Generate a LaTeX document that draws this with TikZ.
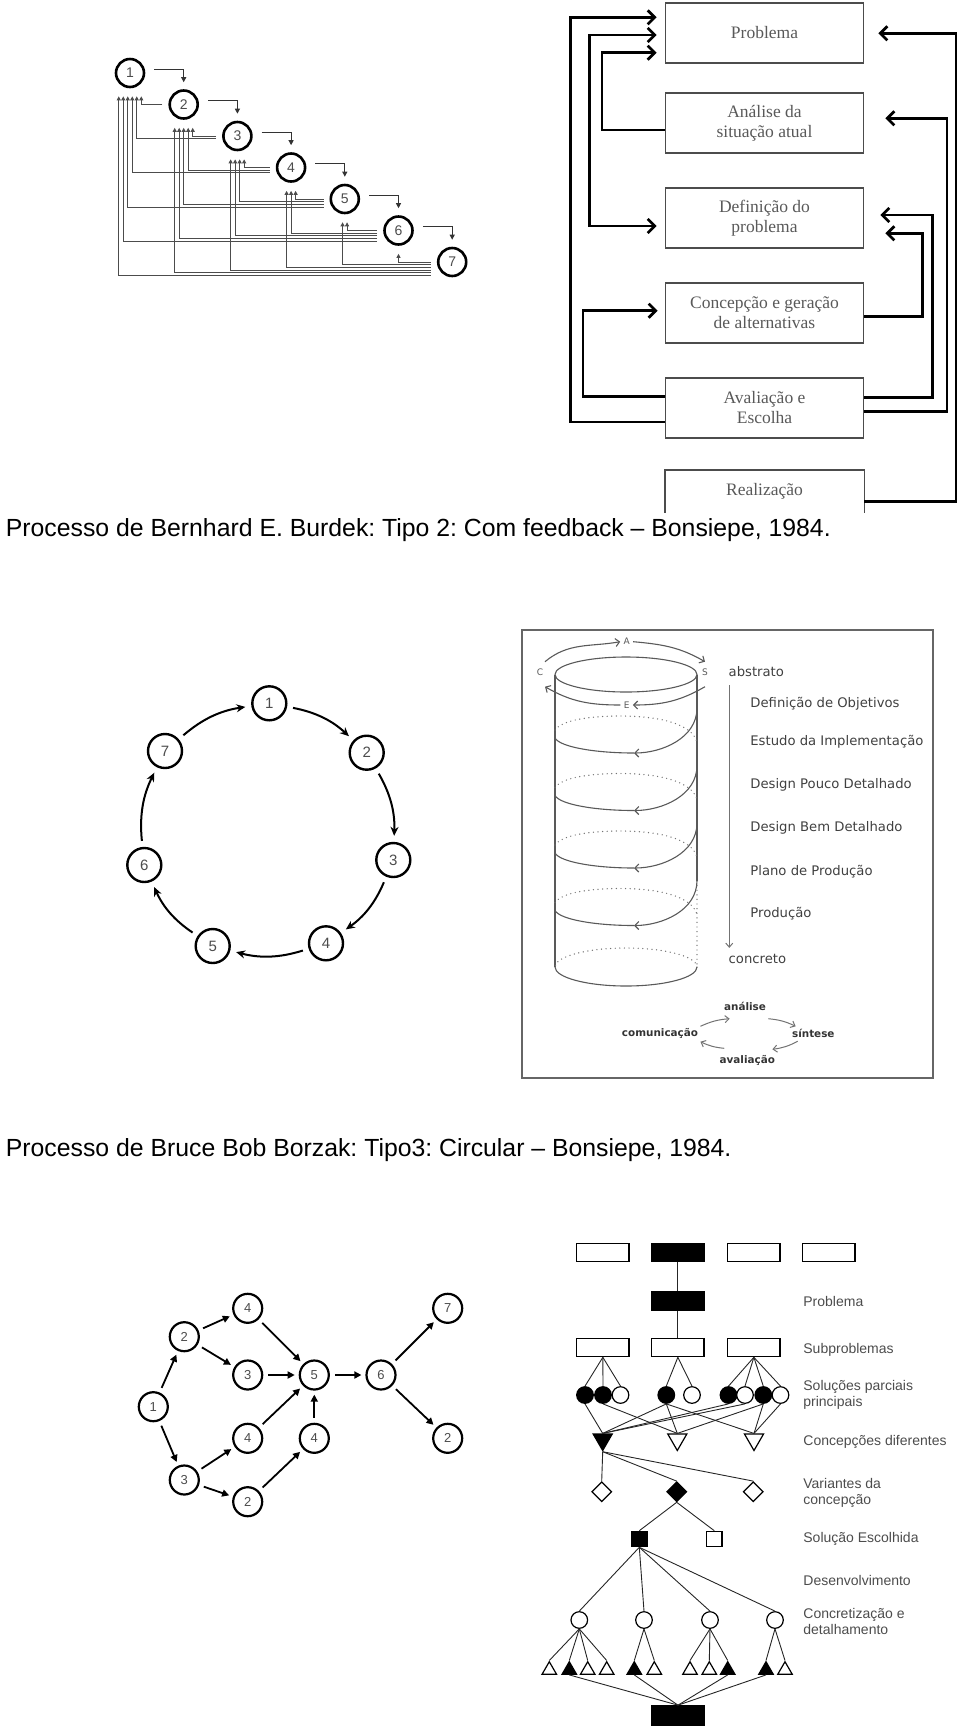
\documentclass[tikz,border=0pt]{standalone}
\usepackage{fontspec}
\setmainfont{Liberation Sans}
\newfontfamily\bookfont{Liberation Serif}
\newfontfamily\vfont{DejaVu Sans}
\usetikzlibrary{arrows.meta,calc,shapes.geometric}
\frenchspacing

\tikzset{
  stair/.style={circle,draw,line width=1.3pt,minimum size=14pt,inner sep=0pt,text=black!70,font=\fontsize{7}{8}\selectfont},
  fwd/.style={draw=black!80,line width=0.5pt,-{Triangle[length=2.5pt,width=2.5pt]}},
  back/.style={draw=black!70,line width=0.5pt,-{Triangle[length=2pt,width=2pt]}},
  stagebox/.style={draw=black!70,line width=0.9pt,minimum width=99pt,minimum height=30pt,inner sep=0pt,align=center,text=black!65,font=\bookfont\fontsize{8.75}{10}\selectfont},
  fb/.style={line width=1.35pt,-{Straight Barb[length=3.5pt,width=7pt]}},
  fbb/.style={line width=1.35pt,{Straight Barb[length=3.5pt,width=7pt]}-{Straight Barb[length=3.5pt,width=7pt]}},
  capt/.style={anchor=west,inner sep=0pt,font=\fontsize{12.4}{14}\selectfont},
  ring/.style={circle,draw,line width=1.2pt,minimum size=17pt,inner sep=0pt,text=black!70,font=\fontsize{7.5}{8}\selectfont},
  cyc/.style={line width=1pt,-{Stealth[length=4.5pt,width=4pt]},shorten >=3pt,shorten <=3pt,bend left=16},
  frame/.style={draw=black!60,line width=0.8pt},
  cyl/.style={draw=black!65,line width=0.55pt},
  hid/.style={draw=black!55,line width=0.7pt,line cap=round,dash pattern=on 0pt off 2.3pt},
  barb/.style={-{Straight Barb[length=2pt,width=4pt]}},
  garr/.style={draw=black!55,line width=0.5pt,-{Straight Barb[length=2pt,width=3.5pt]}},
  lab/.style={anchor=west,inner sep=0pt,text=black!75,font=\vfont\fontsize{6.6}{8}\selectfont},
  tiny/.style={inner sep=0pt,text=black!65,font=\vfont\fontsize{4.5}{5}\selectfont},
  cycl/.style={inner sep=0pt,text=black!80,font=\vfont\bfseries\fontsize{5.2}{6}\selectfont},
  gnode/.style={circle,draw,line width=1.1pt,minimum size=14.5pt,inner sep=0pt,text=black!70,font=\fontsize{6.5}{7}\selectfont},
  garrow/.style={line width=0.9pt,-{Triangle[length=3.5pt,width=3.5pt]},shorten >=2pt,shorten <=2.5pt},
  rbox/.style={rectangle,draw,line width=0.6pt,minimum width=26.2pt,minimum height=9.2pt,inner sep=0pt},
  sol/.style={circle,draw,line width=0.6pt,minimum size=8.3pt,inner sep=0pt},
  tdown/.style={regular polygon,regular polygon sides=3,shape border rotate=180,draw,line width=0.6pt,minimum size=11pt,inner sep=0pt},
  tup/.style={regular polygon,regular polygon sides=3,draw,line width=0.6pt,minimum size=8.4pt,inner sep=0pt},
  dia/.style={diamond,draw,line width=0.6pt,minimum width=10pt,minimum height=10pt,inner sep=0pt},
  sq/.style={rectangle,draw,line width=0.6pt,minimum size=7.7pt,inner sep=0pt},
  blk/.style={fill=black},
  tl/.style={draw=black!85,line width=0.45pt},
  tlab/.style={anchor=west,inner sep=0pt,align=left,text=black!70,font=\fontsize{7}{8.3}\selectfont}
}

\begin{document}
\begin{tikzpicture}[x=0.5pt,y=0.5pt]
  \useasboundingbox (0,0) rectangle (960,-1731);

  % Burdek, staircase with feedback
  \foreach \k in {1,...,7}
    \node[stair] (s\k) at ({130+53.7*(\k-1)},{-73-31.5*(\k-1)}) {\k};
  \foreach \k in {1,...,6}{
    \pgfmathtruncatemacro\n{\k+1}
    \draw[fwd] ($(s\k.east)+(9,4)$) -| ($(s\n.north)+(0,7)$);
  }
  \foreach \j in {2,...,7}{
    \pgfmathtruncatemacro\jm{\j-1}
    \foreach \i in {1,...,\jm}{
      \pgfmathsetmacro\off{(\j-1-\i)*2.7}
      \pgfmathsetmacro\dx{((6-\i)/2-(\j-\i-1))*4.5}
      \draw[back] ($(s\j.west)+(-6,-\off)$) -| ($(s\i.south)+(\dx,-8)$);
    }
  }

  % Burdek, boxes
  \node[stagebox] (prob) at (764.5,-32.7) {Problema};
  \node[stagebox] (anal) at (764.5,-123) {Análise da\\situação atual};
  \node[stagebox] (defi) at (764.5,-218) {Definição do\\problema};
  \node[stagebox] (conc) at (764.5,-313) {Concepção e geração\\de alternativas};
  \node[stagebox] (aval) at (764.5,-408) {Avaliação e\\Escolha};
  \node[stagebox,draw=none,minimum height=20.5pt] (real) at (764.5,-491.5) {Realização};
  \draw[black!70,line width=0.9pt] (real.south west) |- (real.north east) -- (real.south east);

  \draw[fb] ($(aval.west)+(0,-14)$) -- ++(-94,0) |- ($(prob.west)+(-8,15.4)$);
  \draw[fbb] ($(prob.west)+(-8,-2.3)$) -- ++(-66.8,0) |- ($(defi.west)+(-8,-8)$);
  \draw[fb] ($(anal.west)+(0,-7)$) -- ++(-62.5,0) |- ($(prob.west)+(-8,-20)$);
  \draw[fb] ($(aval.west)+(0,11.3)$) -- ++(-81.5,0) |- ($(conc.west)+(-7,2.3)$);
  \draw[fb] ($(real.east)+(0,-10.2)$) -- ++(91.5,0) |- ($(prob.east)+(14,-0.6)$);
  \draw[fb] ($(aval.east)+(0,-3.7)$) -- ++(82.5,0) |- ($(anal.east)+(21,4.7)$);
  \draw[fb] ($(aval.east)+(0,10.7)$) -- ++(68,0) |- ($(defi.east)+(16,3)$);
  \draw[fb] ($(conc.east)+(0,-3.7)$) -- ++(58,0) |- ($(defi.east)+(21,-15.3)$);

  \node[capt] (cap1) at (5.5,-530) {Processo de Bernhard E. Burdek: Tipo 2: Com feedback – Bonsiepe, 1984.};

  % Borzak, circular
  \node[ring] (c1) at (269.3,-703.3) {1};
  \node[ring] (c2) at (366.7,-752.7) {2};
  \node[ring] (c3) at (393.3,-860) {3};
  \node[ring] (c4) at (326,-943.3) {4};
  \node[ring] (c5) at (212.7,-946) {5};
  \node[ring] (c6) at (144.3,-865) {6};
  \node[ring] (c7) at (165,-751) {7};
  \foreach \a/\b in {c1/c2,c2/c3,c3/c4,c4/c5,c5/c6,c6/c7,c7/c1}
    \draw[cyc] (\a) to (\b);

  % cylinder
  \draw[frame] (522,-630) rectangle (933,-1078);
  \draw[cyl] (626,-674.5) ellipse [x radius=71,y radius=17.5];
  \draw[cyl] (555,-674.5) -- (555,-967);
  \draw[cyl] (697,-674.5) -- (697,-881);
  \draw[hid] (697,-881) -- (697,-967);
  \draw[hid] (697,-967) arc[start angle=0,end angle=180,x radius=71,y radius=19];
  \draw[cyl] (555,-967) arc[start angle=180,end angle=360,x radius=71,y radius=19];
  \foreach \c in {0,57.5,115,172.5}{
    \draw[hid] (555,-730-\c) .. controls (562,-720-\c) and (590,-716-\c) .. (620,-716-\c)
      .. controls (660,-716-\c) and (692,-724-\c) .. (697,-742-\c);
    \draw[cyl,barb] (697,-708-\c) .. controls (697,-738-\c) and (662,-753-\c) .. (634,-753-\c);
    \draw[cyl] (634,-753-\c) .. controls (595,-753-\c) and (560,-747-\c) .. (555,-738-\c);
  }
  \node[tiny] (lblC) at (540,-672.7) {C};
  \node[tiny] (lblS) at (705,-672.7) {S};
  \node[tiny] (lblA) at (626.7,-641.7) {A};
  \node[tiny] (lblE) at (626.7,-705) {E};
  \draw[cyl,barb] ($(lblC)+(5,11)$) to[out=40,in=190] ($(lblA.west)+(-3,0)$);
  \draw[cyl,barb] ($(lblA.east)+(3,0)$) to[out=-5,in=150] ($(lblS)+(0,11)$);
  \draw[cyl,barb] ($(lblS)+(0,-14)$) to[out=-150,in=0] ($(lblE.east)+(3,0)$);
  \draw[cyl,barb] ($(lblE.west)+(-3,0)$) to[out=180,in=-30] ($(lblC)+(5,-14)$);

  \node[lab] (abst) at (728.3,-671.7) {abstrato};
  \node[lab] (concr) at (728.3,-959) {concreto};
  \draw[garr] ($(abst.south west)+(1,-8)$) -- ($(concr.north west)+(1,6)$);
  \node[lab] (st1) at (750,-704) {Definição de Objetivos};
  \node[lab] (st2) at (750,-741.7) {Estudo da Implementação};
  \node[lab] (st3) at (750,-785) {Design Pouco Detalhado};
  \node[lab] (st4) at (750,-827.7) {Design Bem Detalhado};
  \node[lab] (st5) at (750,-871.7) {Plano de Produção};
  \node[lab] (st6) at (750,-913.3) {Produção};

  \node[cycl] (an) at (745,-1006.7) {análise};
  \node[cycl] (co) at (660,-1033.3) {comunicação};
  \node[cycl] (si) at (813.3,-1033.3) {síntese};
  \node[cycl] (av) at (747.3,-1060) {avaliação};
  \draw[garr] ($(co.east)+(2,7)$) to[bend left=10] ($(an.west)+(6,-12)$);
  \draw[garr] ($(an.east)+(2,-12)$) to[bend left=10] ($(si.west)+(4,7)$);
  \draw[garr] ($(si.west)+(6,-8)$) to[bend left=10] ($(av.east)+(-3,10.7)$);
  \draw[garr] ($(av.west)+(5,11.7)$) to[bend left=10] ($(co.east)+(2,-8.4)$);

  \node[capt] (cap2) at (5.5,-1150) {Processo de Bruce Bob Borzak: Tipo3: Circular – Bonsiepe, 1984.};

  % branching graph
  \node[gnode] (g1) at (153.3,-1406.7) {1};
  \node[gnode] (g2a) at (184.3,-1336.7) {2};
  \node[gnode] (g3a) at (184.3,-1480) {3};
  \node[gnode] (g4a) at (247.7,-1308.3) {4};
  \node[gnode] (g3b) at (247.7,-1375) {3};
  \node[gnode] (g4b) at (247.7,-1438.3) {4};
  \node[gnode] (g2b) at (247.7,-1501.7) {2};
  \node[gnode] (g5) at (314.3,-1375) {5};
  \node[gnode] (g4c) at (314.3,-1438.3) {4};
  \node[gnode] (g6) at (381,-1375) {6};
  \node[gnode] (g7) at (447.7,-1308.3) {7};
  \node[gnode] (g2c) at (447.7,-1438.3) {2};
  \foreach \a/\b in {g1/g2a,g1/g3a,g2a/g4a,g2a/g3b,g4a/g5,g3b/g5,g4b/g5,g4c/g5,
                     g3a/g4b,g3a/g2b,g2b/g4c,g5/g6,g6/g7,g6/g2c}
    \draw[garrow] (\a) -- (\b);

  % decision tree
  \node[rbox] (t1) at (602.85,-1252.5) {};
  \node[rbox,blk] (t2) at (677.85,-1252.5) {};
  \node[rbox] (t3) at (753.85,-1252.5) {};
  \node[rbox] (t4) at (828.85,-1252.5) {};
  \node[rbox,blk] (pb) at (677.85,-1300.85) {};
  \node[rbox] (u1) at (602.85,-1347.5) {};
  \node[rbox] (u2) at (677.85,-1347.5) {};
  \node[rbox] (u3) at (753.85,-1347.5) {};
  \draw[tl] (t2.south) -- (pb.north);
  \draw[tl] (pb.south) -- (u2.north);

  \foreach \x/\f [count=\i] in {585/black,603/black,620.5/white,666.3/black,692/white,
                                728.5/black,745/white,763.3/black,780.5/white}
    \node[sol,fill=\f] (p\i) at (\x,-1395) {};
  \foreach \u/\p in {u1/p1,u1/p2,u1/p3,u2/p4,u2/p5,u3/p6,u3/p7,u3/p8,u3/p9}
    \draw[tl] (\u.south) -- (\p.north);

  \node[tdown,blk] (q1) at (602.7,-1439.5) {};
  \node[tdown] (q2) at (677.3,-1439.5) {};
  \node[tdown] (q3) at (754,-1439.5) {};
  \foreach \p/\q in {p1/q1,p4/q1,p6/q1,p7/q1,p2/q2,p4/q2,p8/q2,p4/q3,p8/q3,p9/q3}
    \draw[tl] (\p.south) -- (\q.north);

  \node[dia] (d1) at (601.7,-1491.7) {};
  \node[dia,blk] (d2) at (676.7,-1491.7) {};
  \node[dia] (d3) at (753.3,-1491.7) {};
  \foreach \d in {d1,d2,d3}
    \draw[tl] (q1.south) -- (\d.north);

  \node[sq,blk] (e1) at (639.3,-1539) {};
  \node[sq] (e2) at (714.3,-1539) {};
  \foreach \e in {e1,e2}
    \draw[tl] (d2.south) -- (\e.north);

  \foreach \x [count=\i] in {579.3,644,710,775}{
    \node[sol] (k\i) at (\x,-1620) {};
    \draw[tl] (e1.south) -- (k\i.north);
  }

  \foreach \x/\f [count=\i] in {549.3/white,569.3/black,587.7/white,606.7/white,634.3/black,
                                654.3/white,690/white,709.3/white,727.7/black,766/black,785/white}
    \node[tup,fill=\f] (v\i) at (\x,-1670.1) {};
  \foreach \k/\v in {k1/v1,k1/v2,k1/v3,k1/v4,k2/v5,k2/v6,k3/v7,k3/v8,k3/v9,k4/v10,k4/v11}
    \draw[tl] (\k.south) -- (\v.north);

  \node[rbox,blk,minimum height=9.65pt] (bot) at (678,-1715.4) {};
  \foreach \v in {v2,v5,v9,v10}
    \draw[tl] (\v.south) -- (bot.north);

  \node[tlab] (l1) at (803,-1301.7) {Problema};
  \node[tlab] (l2) at (803,-1350) {Subproblemas};
  \node[tlab] (l3) at (803,-1395) {Soluções parciais\\principais};
  \node[tlab] (l4) at (803,-1442) {Concepções diferentes};
  \node[tlab] (l5) at (803,-1493) {Variantes da\\concepção};
  \node[tlab] (l6) at (803,-1539.3) {Solução Escolhida};
  \node[tlab] (l7) at (803,-1580) {Desenvolvimento};
  \node[tlab] (l8) at (803,-1621.3) {Concretização e\\detalhamento};
\end{tikzpicture}
\end{document}
